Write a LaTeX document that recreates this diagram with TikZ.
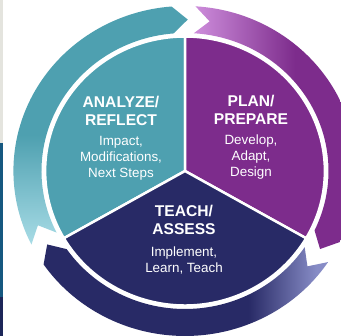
\documentclass[tikz,border=0pt]{standalone}
\usepackage{fontspec}
\setmainfont{Liberation Sans}

\definecolor{tealsec}{RGB}{78,160,176}
\definecolor{teallight}{RGB}{168,220,230}
\definecolor{purplesec}{RGB}{125,44,140}
\definecolor{purplelight}{RGB}{206,142,220}
\definecolor{navysec}{RGB}{40,42,102}
\definecolor{lavender}{RGB}{135,140,198}
\definecolor{stripgrey}{RGB}{228,228,222}
\definecolor{stripblue}{RGB}{22,88,128}
\definecolor{stripnavy}{RGB}{28,38,88}

\pgfdeclareverticalshading{tealring}{100bp}{color(0bp)=(teallight); color(25bp)=(teallight); color(48bp)=(tealsec); color(100bp)=(tealsec)}
\pgfdeclarehorizontalshading{purplering}{100bp}{color(0bp)=(purplelight); color(25bp)=(purplelight); color(55bp)=(purplesec); color(100bp)=(purplesec)}
\pgfdeclarehorizontalshading{navyring}{100bp}{color(0bp)=(navysec); color(61bp)=(navysec); color(73bp)=(lavender); color(100bp)=(lavender)}

\tikzset{
  heading/.style={text=white,font=\bfseries\fontsize{15.6}{18}\selectfont,align=center,inner sep=0pt},
  body/.style={text=white,font=\fontsize{13.4}{16}\selectfont,align=center,inner sep=0pt,anchor=north},
  sector/.style={draw=white,line width=2.5pt}
}

\begin{document}
\begin{tikzpicture}[x=1pt,y=1pt]
  \useasboundingbox (0,0) rectangle (341,-336);
  % strip on the left edge
  \fill[stripgrey] (0,0) rectangle (3,-143);
  \fill[stripblue] (0,-143) rectangle (3,-297);
  \fill[stripnavy] (0,-297) rectangle (3,-336);

  \begin{scope}[shift={(185,-171)},xscale=1.04]
    % the three sectors
    \fill[tealsec,sector] (0,0) -- (90:134.5) arc[start angle=90,end angle=210,radius=134.5] -- cycle;
    \fill[purplesec,sector] (0,0) -- (-30:134.5) arc[start angle=-30,end angle=90,radius=134.5] -- cycle;
    \fill[navysec,sector] (0,0) -- (210:134.5) arc[start angle=210,end angle=330,radius=134.5] -- cycle;

    % ring arrows
    \shade[shading=tealring] (206.5:165) arc[start angle=206.5,end angle=94.5,radius=165]
      -- (89:151.5) -- (94.5:138) arc[start angle=94.5,end angle=206.5,radius=138]
      -- (201:151.5) -- cycle;
    \shade[shading=purplering] (86.5:165) arc[start angle=86.5,end angle=-25.5,radius=165]
      -- (-31:151.5) -- (-25.5:138) arc[start angle=-25.5,end angle=86.5,radius=138]
      -- (81:151.5) -- cycle;
    \shade[shading=navyring] (-33.5:165) arc[start angle=-33.5,end angle=-145.5,radius=165]
      -- (-151:151.5) -- (-145.5:138) arc[start angle=-145.5,end angle=-33.5,radius=138]
      -- (-39:151.5) -- cycle;
  \end{scope}

  \node[heading] (analyze) at (121,-111) {ANALYZE/\\REFLECT};
  \path (analyze.south) ++(0,-10) node[body] (analyzetext) {Impact,\\Modifications,\\Next Steps};
  \node[heading] (plan) at (251,-110) {PLAN/\\PREPARE};
  \path (plan.south) ++(0,-10) node[body] (plantext) {Develop,\\Adapt,\\Design};
  \node[heading] (teach) at (184,-220) {TEACH/\\ASSESS};
  \path (teach.south) ++(0,-12) node[body] (teachtext) {Implement,\\Learn, Teach};
\end{tikzpicture}
\end{document}
